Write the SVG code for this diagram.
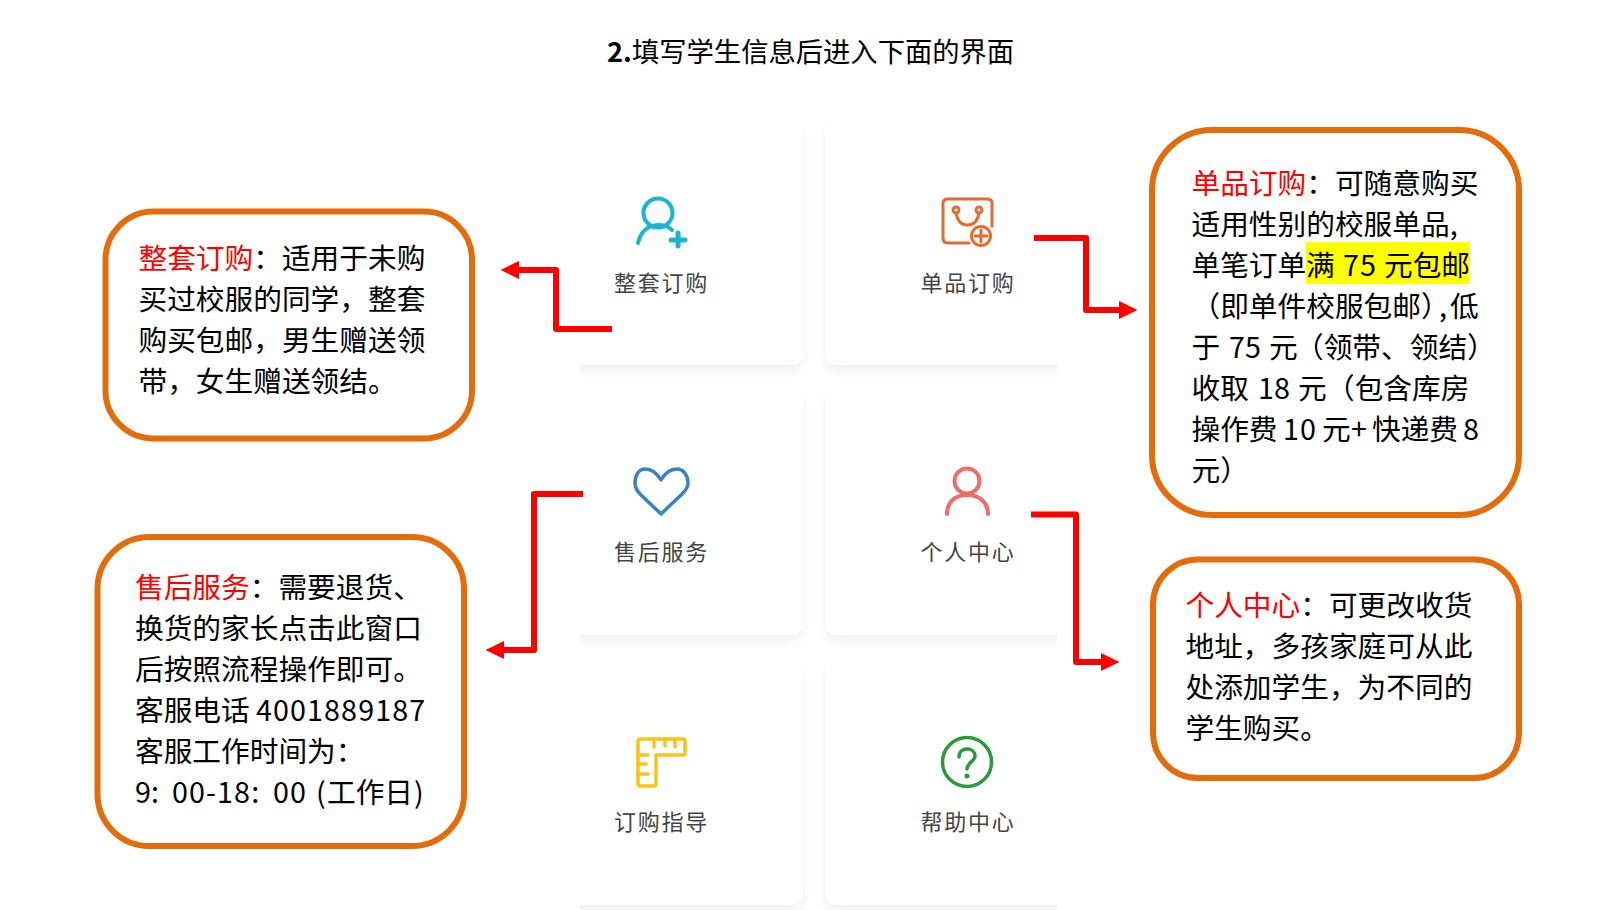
<svg xmlns="http://www.w3.org/2000/svg" width="1623" height="910" viewBox="0 0 1623 910">
<style>
text{font-family:"Noto Sans CJK SC","Noto Sans",sans-serif}
.box{fill:#fff;stroke:#e46c0a;stroke-width:6}
.t{font-size:28.7px;fill:#000}
.r{fill:#f00}
.d{letter-spacing:1.1px}
.lab{font-size:22px;fill:#444;text-anchor:middle;letter-spacing:1.7px}
.card{fill:#fff;filter:url(#sh)}
.conn{fill:none;stroke:#f00;stroke-width:6;stroke-linejoin:round;marker-end:url(#ah)}
.ic{fill:none;stroke-linecap:round;stroke-linejoin:round}
</style>
<defs>
<filter id="sh" x="-15%" y="-15%" width="130%" height="130%"><feDropShadow dx="0" dy="6" stdDeviation="6" flood-color="#000" flood-opacity="0.06"/></filter>
<clipPath id="cl"><rect x="580" y="100" width="477" height="810"/></clipPath>
<marker id="ah" markerUnits="userSpaceOnUse" markerWidth="20" markerHeight="20" refX="0" refY="10" orient="auto"><path d="M0 1L18.500 10L0 19Z" fill="#f00"/></marker>
</defs>
<rect width="1623" height="910" fill="#fff"/>
<text id="title" x="607" y="62" font-size="27.300" fill="#000"><tspan font-weight="700">2.</tspan>填写学生信息后进入下面的界面</text>
<g clip-path="url(#cl)">
<g id="cards">
<rect class="card" x="540" y="119" width="263" height="246" rx="12"/>
<rect class="card" x="825" y="119" width="263" height="246" rx="12"/>
<rect class="card" x="540" y="389" width="263" height="246" rx="12"/>
<rect class="card" x="825" y="389" width="263" height="246" rx="12"/>
<rect class="card" x="540" y="659" width="263" height="246" rx="12"/>
<rect class="card" x="825" y="659" width="263" height="246" rx="12"/>
</g>
</g>
<g id="node-zhengtao">
<g class="ic" stroke="#1cb5cf" stroke-width="4"><circle cx="658" cy="213" r="14.500"/><path d="M638 243Q642 226 658 225Q667 225 672 230"/><path d="M671 240H685M678 233V246" stroke-width="5"/></g>
<text class="lab" x="661.500" y="291">整套订购</text>
</g>
<g id="node-danpin">
<g class="ic" stroke="#e36c2e" stroke-width="3"><path d="M969 243H948Q943 243 943 238V203Q943 199 948 199H987Q992 199 992 203V226"/><circle cx="956" cy="210" r="3"/><circle cx="979" cy="210" r="3"/><path d="M956 213Q958 225 967.500 225Q977 225 979 213"/><circle cx="981" cy="236" r="9.500"/><path d="M975 236H987M981 230V242"/></g>
<text class="lab" x="968" y="291">单品订购</text>
</g>
<g id="node-shouhou">
<path class="ic" stroke="#3b82c4" stroke-width="3.500" d="M661 480C657 473 651 469 645 469C639 469 635 475 635 483C635 489 638 492 641 495L661 514L681 495C684 492 688 489 688 483C688 475 683 469 677 469C671 469 665 473 661 480Z"/>
<text class="lab" x="661.500" y="560">售后服务</text>
</g>
<g id="node-geren">
<g class="ic" stroke="#ea6f66" stroke-width="4"><circle cx="967" cy="481" r="12.500"/><path d="M947 514C947 502 955 495 967 495C979 495 988 502 988 514"/></g>
<text class="lab" x="968" y="560">个人中心</text>
</g>
<g id="node-zhidao">
<g class="ic" stroke="#f9c31c" stroke-width="3.500"><path d="M641 739H683Q685 739 685 741V753Q685 755 683 755H656V783Q656 786 654 786H641Q638 786 638 783V741Q638 739 641 739Z"/><path d="M654 739V747M665 739V746M675 739V747M638 755H648M638 764H646M638 774H648"/></g>
<text class="lab" x="661.500" y="830">订购指导</text>
</g>
<g id="node-bangzhu">
<g class="ic" stroke="#2a9a3a" stroke-width="3.500"><circle cx="967" cy="762" r="24.500"/><path d="M959 757C959 751 963 749 967 749C972 749 975 752 975 756C975 761 967 763 967 769"/></g><circle cx="967" cy="776" r="2.500" fill="#2a9a3a"/>
<text class="lab" x="968" y="830">帮助中心</text>
</g>
<g id="connectors">
<path class="conn" d="M612 329H556V270H519"/>
<path class="conn" d="M1034 238H1086V310H1119"/>
<path class="conn" d="M583 494H534V650H504"/>
<path class="conn" d="M1031 514.500H1076V662H1101"/>
</g>
<g id="box-zhengtao">
<rect class="box" x="105.500" y="211.500" width="366.500" height="227" rx="48"/>
<text class="t" x="138.500" y="269"><tspan class="r">整套订购</tspan>：适用于未购</text>
<text class="t" x="138.500" y="310">买过校服的同学，整套</text>
<text class="t" x="138.500" y="351">购买包邮，男生赠送领</text>
<text class="t" x="138.500" y="392">带，女生赠送领结。</text>
</g>
<g id="box-shouhou">
<rect class="box" x="97.500" y="537" width="366.500" height="309" rx="52"/>
<text class="t" x="135" y="598"><tspan class="r">售后服务</tspan>：需要退货、</text>
<text class="t" x="135" y="639">换货的家长点击此窗口</text>
<text class="t" x="135" y="680">后按照流程操作即可。</text>
<text class="t" x="135" y="721">客服电话<tspan class="d" x="256">4001889187</tspan></text>
<text class="t" x="135" y="762">客服工作时间为：</text>
<text class="t" x="135" y="803">9:<tspan x="172" class="d">00-18:</tspan><tspan x="273" class="d">00</tspan><tspan x="316">(</tspan><tspan x="327">工作日</tspan><tspan x="414">)</tspan></text>
</g>
<g id="box-danpin">
<rect class="box" x="1152" y="130" width="367" height="385" rx="60"/>
<rect x="1306" y="242" width="164" height="42" fill="#ff0"/>
<text class="t" x="1191.500" y="194"><tspan class="r">单品订购</tspan>：可随意购买</text>
<text class="t" x="1191.500" y="235">适用性别的校服单品,</text>
<text class="t" x="1191.500" y="276">单笔订单<tspan x="1306">满</tspan><tspan x="1343" class="d">75</tspan><tspan x="1384">元包邮</tspan></text>
<text class="t" x="1191.500" y="317">（即单件校服包邮）<tspan x="1439">,</tspan><tspan x="1450">低</tspan></text>
<text class="t" x="1191.500" y="358">于<tspan x="1229">75</tspan><tspan x="1269">元</tspan><tspan x="1295">（领带、领结）</tspan></text>
<text class="t" x="1191.500" y="399">收取<tspan x="1258">18</tspan><tspan x="1298">元</tspan><tspan x="1326">（包含库房</tspan></text>
<text class="t" x="1191.500" y="440">操作费<tspan x="1283" class="d">10</tspan><tspan x="1322">元</tspan><tspan x="1351">+</tspan><tspan x="1372">快递费</tspan><tspan x="1463">8</tspan></text>
<text class="t" x="1191.500" y="481">元）</text>
</g>
<g id="box-geren">
<rect class="box" x="1153" y="559.500" width="366" height="218.500" rx="45"/>
<text class="t" x="1185.500" y="616"><tspan class="r">个人中心</tspan>：可更改收货</text>
<text class="t" x="1185.500" y="657">地址，多孩家庭可从此</text>
<text class="t" x="1185.500" y="698">处添加学生，为不同的</text>
<text class="t" x="1185.500" y="739">学生购买。</text>
</g>
</svg>
